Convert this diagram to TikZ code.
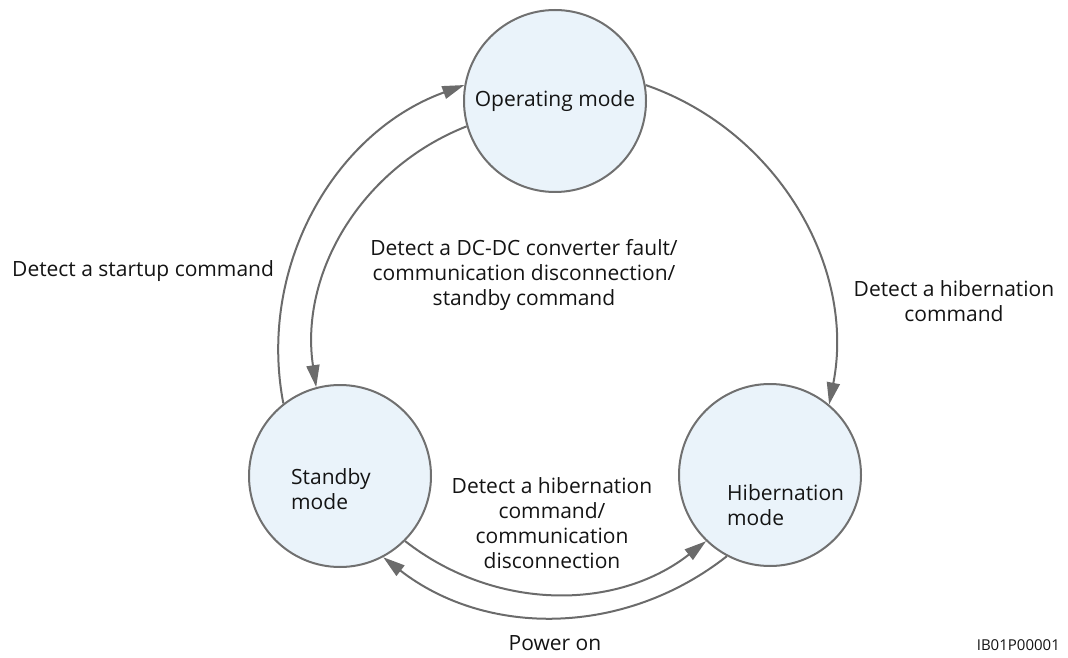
\documentclass[tikz,border=0pt]{standalone}
\usepackage{fontspec}
\setmainfont{Open Sans}
\usetikzlibrary{arrows.meta}
\definecolor{linegray}{HTML}{6B6B6B}
\definecolor{circgray}{HTML}{707070}
\definecolor{circfill}{HTML}{EAF3FA}
\definecolor{txt}{HTML}{141414}
\begin{document}
\begin{tikzpicture}[x=1pt,y=1pt,
  state/.style={circle, draw=circgray, fill=circfill, line width=2pt, minimum size=182pt, inner sep=0pt, text=txt, font=\fontsize{21}{25}\selectfont},
  lbl/.style={text=txt, font=\fontsize{21}{25}\selectfont, align=center, inner sep=0pt},
  inlbl/.style={lbl, align=left, anchor=west},
  flow/.style={draw=linegray, line width=2pt, -{Triangle[length=22pt,width=13pt]}}
]
\useasboundingbox (0,0) rectangle (1068,657);
% states
\node[state] (op) at (555,556) {Operating mode};
\node[state] (sb) at (340,181) {};
\node[state] (hb) at (770,182) {};
\node[inlbl] (sbt) at (291,168) {Standby\\mode};
\node[inlbl] (hbt) at (727,152) {Hibernation\\mode};
% transitions
\draw[flow] (sb.128) to[bend left=40.5, looseness=0.97] (op.170);
\draw[flow] (op.196) to[bend right=38.5, looseness=0.97] (sb.105);
\draw[flow] (op.10) to[bend left=41, looseness=0.97] (hb.50);
\draw[flow] (sb.315) to[bend right=38, looseness=0.97] (hb.226);
\draw[flow] (hb.242) to[bend left=38, looseness=0.97] (sb.298);
% labels
\node[lbl, anchor=west] (l1) at (12,386) {Detect a startup command};
\node[lbl] (l2) at (524,382) {Detect a DC-DC converter fault/\\communication disconnection/\\standby command};
\node[lbl] (l3) at (954,356) {Detect a hibernation\\command};
\node[lbl] (l4) at (552,134) {Detect a hibernation\\command/\\communication\\disconnection};
\node[lbl] (l5) at (555,14) {Power on};
\node[text=txt, font=\fontsize{15}{18}\selectfont, anchor=east, inner sep=0pt] (code) at (1060,12) {IB01P00001};
\end{tikzpicture}
\end{document}
